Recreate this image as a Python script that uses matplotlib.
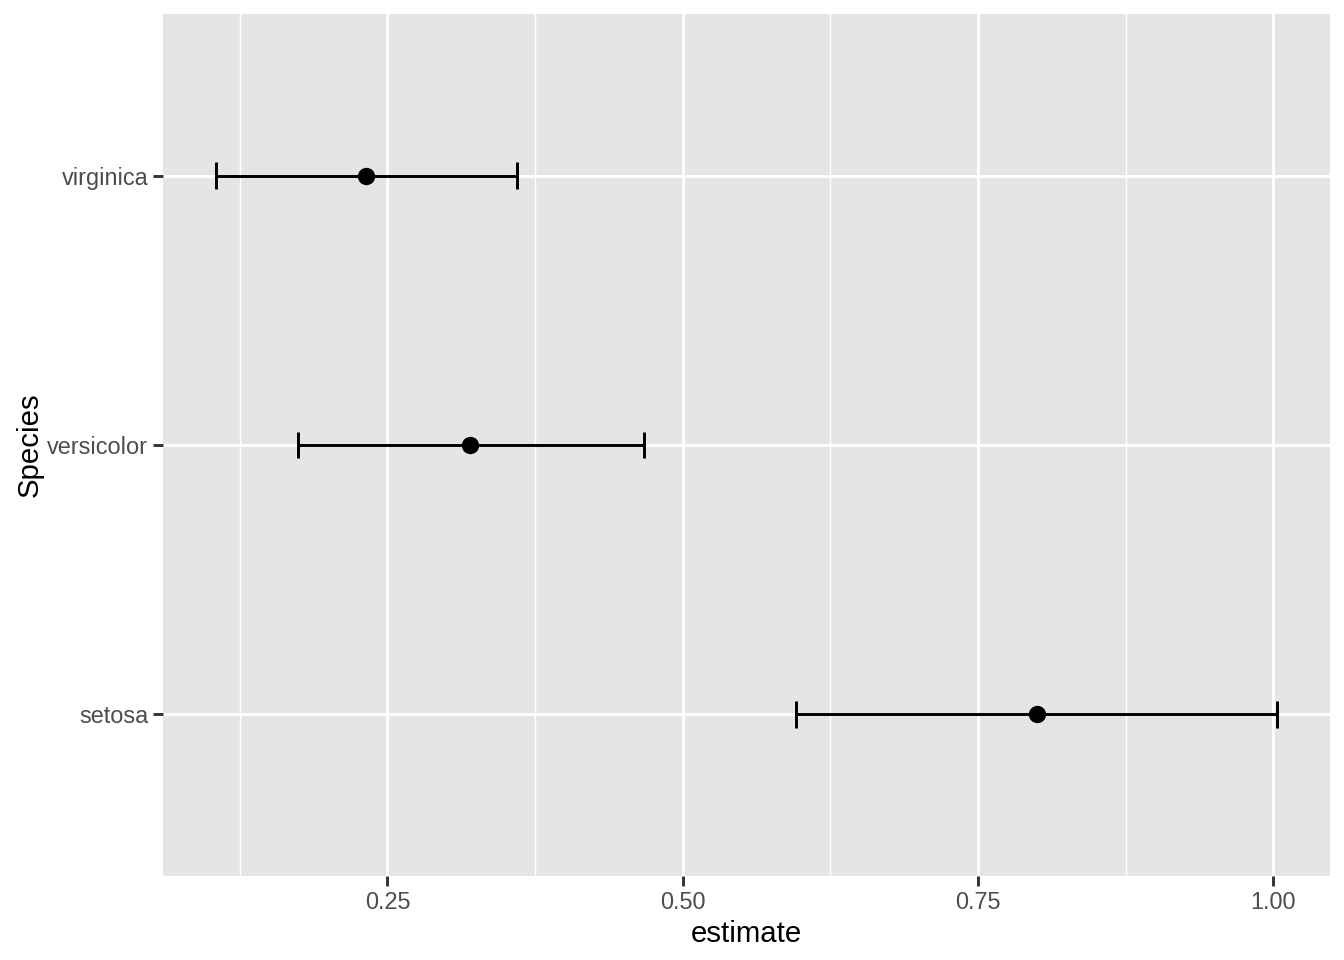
import matplotlib.pyplot as plt
import numpy as np
from matplotlib.ticker import MultipleLocator

plt.rcParams['font.family'] = ['Liberation Sans', 'DejaVu Sans']

species = ['setosa', 'versicolor', 'virginica']
estimate = [0.800, 0.320, 0.232]
conf_low = [0.596, 0.174, 0.105]
conf_high = [1.003, 0.467, 0.360]

fig = plt.figure(figsize=(7, 5), dpi=192)
ax = fig.add_axes([0.1213, 0.0875, 0.9896 - 0.1213, 0.9854 - 0.0875])
ax.set_facecolor('#E5E5E5')
for s in ax.spines.values():
    s.set_visible(False)

y = np.arange(1, len(species) + 1)
est = np.array(estimate)
lo = np.array(conf_low)
hi = np.array(conf_high)

# error bars with caps (cap width 0.1 in category units)
ax.hlines(y, lo, hi, color='black', linewidth=1.1, zorder=3)
ax.vlines(lo, y - 0.05, y + 0.05, color='black', linewidth=1.1, zorder=3)
ax.vlines(hi, y - 0.05, y + 0.05, color='black', linewidth=1.1, zorder=3)
ax.plot(est, y, 'o', color='black', markersize=5.5, zorder=4)

span = hi.max() - lo.min()
ax.set_xlim(lo.min() - 0.05 * span, hi.max() + 0.05 * span)
ax.set_ylim(0.4, 3.6)

ax.xaxis.set_minor_locator(MultipleLocator(0.125))
ax.set_xticks([0.25, 0.5, 0.75, 1.0])
ax.set_xticklabels(['0.25', '0.50', '0.75', '1.00'])
ax.set_yticks(y)
ax.set_yticklabels(species)

ax.grid(True, which='major', color='white', linewidth=1.1)
ax.grid(True, which='minor', axis='x', color='white', linewidth=0.55)
ax.set_axisbelow(True)

ax.tick_params(axis='both', which='major', length=3.7, width=1.1, color='#333333',
               labelsize=8.8, labelcolor='#4D4D4D', pad=1.8)
ax.tick_params(axis='both', which='minor', length=0)

ax.set_xlabel('estimate', fontsize=11, color='black', labelpad=2.5)
ax.set_ylabel('Species', fontsize=11, color='black', labelpad=1.5)

fig.savefig('out.png', dpi=192)
